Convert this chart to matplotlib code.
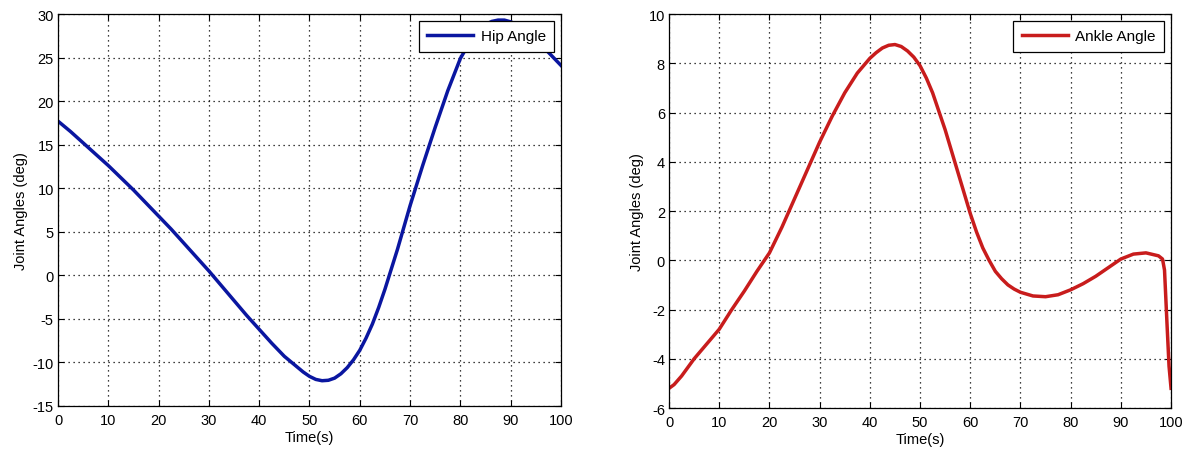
import matplotlib.pyplot as plt

plt.rcParams['font.family'] = ['Liberation Sans', 'DejaVu Sans']
plt.rcParams['axes.unicode_minus'] = False

# hip angle
hip_t = [0, 2.5, 5, 7.5, 10, 12.5, 15, 17.5, 20, 22.5, 25, 27.5, 30, 32.5, 35, 37.5,
         40, 42.5, 45, 47.5, 48.75, 50, 51.25, 52.5, 53.75, 55, 56.25, 57.5, 58.75,
         60, 61.25, 62.5, 63.75, 65, 67.5, 70, 72.5, 75, 77.5, 80, 82.5, 83.75, 85,
         86.25, 87.5, 88.75, 90, 91.25, 92.5, 95, 97.5, 100]
hip_deg = [17.7, 16.5, 15.2, 13.9, 12.6, 11.2, 9.8, 8.3, 6.8, 5.3, 3.7, 2.1, 0.5, -1.2,
           -2.9, -4.6, -6.2, -7.8, -9.3, -10.5, -11.1, -11.6, -11.95, -12.1, -12.05,
           -11.8, -11.3, -10.6, -9.7, -8.6, -7.2, -5.6, -3.7, -1.6, 3.0, 8.0, 12.6,
           17.0, 21.2, 24.9, 27.4, 28.2, 28.8, 29.15, 29.3, 29.3, 29.1, 28.8, 28.3,
           27.1, 25.6, 24.1]

# ankle angle
ankle_t = [0, 1, 2.5, 5, 7.5, 10, 12.5, 15, 17.5, 20, 22.5, 25, 27.5, 30, 32.5, 35,
           37.5, 40, 41.25, 42.5, 43.75, 45, 46.25, 47.5, 48.75, 50, 51.25, 52.5, 55,
           56.25, 57.5, 58.75, 60, 61.25, 62.5, 63.75, 65, 66.25, 67.5, 68.75, 70,
           72.5, 75, 77.5, 80, 82.5, 85, 87.5, 90, 92.5, 95, 97.5, 98.3, 98.7, 99.2,
           99.6, 100]
ankle_deg = [-5.2, -5.05, -4.7, -4.0, -3.4, -2.8, -2.0, -1.25, -0.45, 0.3, 1.35, 2.5,
             3.65, 4.8, 5.85, 6.8, 7.6, 8.2, 8.43, 8.62, 8.73, 8.76, 8.68, 8.5, 8.25,
             7.9, 7.4, 6.8, 5.3, 4.45, 3.6, 2.75, 1.9, 1.15, 0.5, 0.0, -0.45, -0.75,
             -1.0, -1.17, -1.3, -1.45, -1.48, -1.4, -1.2, -0.95, -0.65, -0.3, 0.05,
             0.25, 0.3, 0.18, 0.05, -0.4, -2.6, -4.3, -5.2]

panels = [
    dict(t=hip_t, y=hip_deg, label='Hip Angle', color='#0a16a0',
         ylim=(-15, 30), yticks=range(-15, 31, 5),
         pos=[0.0488, 0.0996, 0.4230, 0.8672]),
    dict(t=ankle_t, y=ankle_deg, label='Ankle Angle', color='#c81c1c',
         ylim=(-6, 10), yticks=range(-6, 11, 2),
         pos=[0.5627, 0.0951, 0.4222, 0.8717]),
]

fig = plt.figure(figsize=(11.89, 4.52), dpi=100)

for p in panels:
    ax = fig.add_axes(p['pos'])
    ax.plot(p['t'], p['y'], color=p['color'], lw=2.5, label=p['label'],
            solid_joinstyle='round')
    ax.set_xlim(0, 100)
    ax.set_ylim(*p['ylim'])
    ax.set_xticks(range(0, 101, 10))
    ax.set_yticks(list(p['yticks']))
    ax.grid(True, color='black', linestyle=(0, (1, 3)), linewidth=0.9)
    ax.tick_params(direction='in', top=True, right=True, length=4,
                   labelsize=10.5, pad=3)
    ax.tick_params(axis='x', pad=5)
    for s in ax.spines.values():
        s.set_linewidth(0.9)
    ax.set_xlabel('Time(s)', fontsize=10.5, labelpad=2)
    ax.set_ylabel('Joint Angles (deg)', fontsize=10.5, labelpad=3)
    leg = ax.legend(loc='upper right', fontsize=11, fancybox=False,
                    framealpha=1, edgecolor='black', borderaxespad=0.45,
                    handlelength=3.0, borderpad=0.55, handletextpad=0.5)
    leg.get_frame().set_linewidth(0.9)

fig.savefig('out.png', dpi=100)
